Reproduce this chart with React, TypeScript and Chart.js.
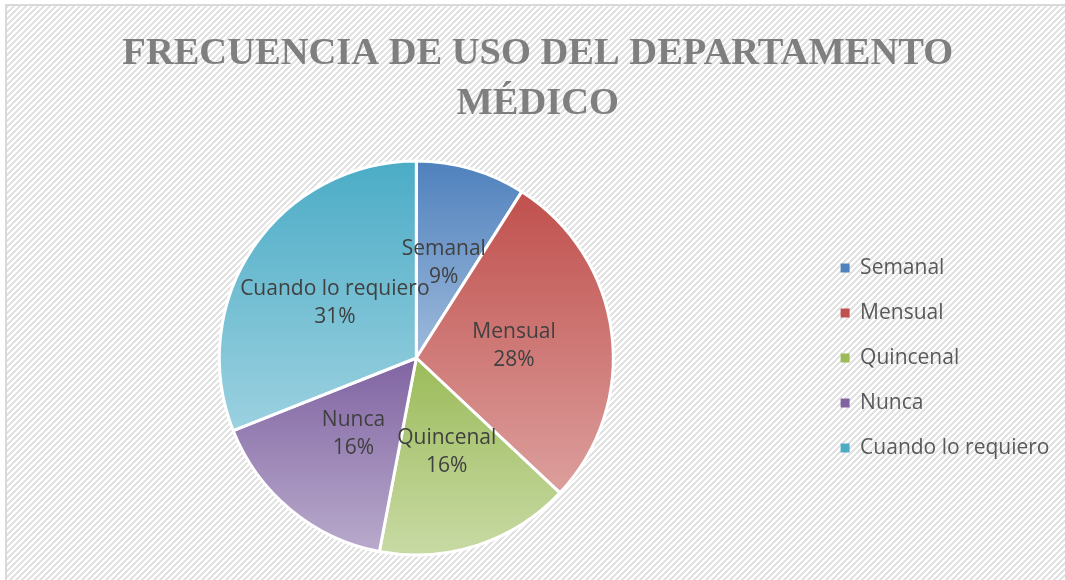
import React, { useEffect, useRef } from "react";
import { Chart, registerables } from "chart.js";

Chart.register(...registerables);

const titleLines = ["FRECUENCIA DE USO DEL DEPARTAMENTO", "MÉDICO"];
const categories = ["Semanal", "Mensual", "Quincenal", "Nunca", "Cuando lo requiero"];
const percentValues = [9, 28, 16, 16, 31];
const baseColors = ["#4F81BD", "#C0504D", "#9BBB59", "#8064A2", "#4BACC6"];

function lighten(hex: string, t: number) {
  const n = parseInt(hex.slice(1), 16);
  const r = (n >> 16) & 255, g = (n >> 8) & 255, b = n & 255;
  const m = (c: number) => Math.round(c + (255 - c) * t);
  return `rgb(${m(r)},${m(g)},${m(b)})`;
}

function makePattern(ctx: CanvasRenderingContext2D) {
  const p = document.createElement("canvas");
  p.width = 6;
  p.height = 6;
  const c = p.getContext("2d")!;
  c.fillStyle = "#ffffff";
  c.fillRect(0, 0, 6, 6);
  c.fillStyle = "#e2e2e2";
  for (let y = 0; y < 6; y++) {
    for (let k = 0; k < 3; k++) {
      const x = (6 - y + k + 6) % 6;
      c.fillRect(x, y, 1, 1);
    }
  }
  return ctx.createPattern(p, "repeat");
}

const backgroundPlugin = {
  id: "bgPattern",
  beforeDraw(chart: any) {
    const ctx = chart.ctx as CanvasRenderingContext2D;
    ctx.save();
    ctx.fillStyle = "#ffffff";
    ctx.fillRect(0, 0, chart.width, chart.height);
    const pat = makePattern(ctx);
    if (pat) {
      ctx.fillStyle = pat;
      ctx.fillRect(6, 5, chart.width, chart.height);
    }
    ctx.strokeStyle = "#d9d9d9";
    ctx.lineWidth = 2;
    ctx.strokeRect(6, 5, chart.width + 10, chart.height + 10);
    ctx.restore();
  },
};

const sliceLabelPlugin = {
  id: "sliceLabels",
  afterDatasetsDraw(chart: any) {
    const ctx = chart.ctx as CanvasRenderingContext2D;
    const meta = chart.getDatasetMeta(0);
    ctx.save();
    ctx.fillStyle = "#404040";
    ctx.font = "21px 'Open Sans'";
    ctx.textAlign = "center";
    ctx.textBaseline = "middle";
    meta.data.forEach((arc: any, i: number) => {
      const p = arc.tooltipPosition();
      ctx.fillText(categories[i], p.x, p.y - 14);
      ctx.fillText(percentValues[i] + "%", p.x, p.y + 14);
    });
    ctx.restore();
  },
};

const PIE_RADIUS = 197;

function sliceGradient(context: any) {
  const i = context.dataIndex;
  const base = baseColors[i];
  const chart = context.chart;
  const ca = chart.chartArea;
  if (!ca) return base;
  const cx = (ca.left + ca.right) / 2;
  const cy = (ca.top + ca.bottom) / 2;
  const r = PIE_RADIUS;
  const total = percentValues.reduce((a, b) => a + b, 0);
  let before = 0;
  for (let k = 0; k < i; k++) before += percentValues[k];
  const a0 = -Math.PI / 2 + (before / total) * Math.PI * 2;
  const a1 = a0 + (percentValues[i] / total) * Math.PI * 2;
  const ys = [cy, cy + r * Math.sin(a0), cy + r * Math.sin(a1)];
  const contains = (a: number) => {
    let x = a;
    while (x < a0) x += Math.PI * 2;
    return x <= a1;
  };
  if (contains(Math.PI / 2)) ys.push(cy + r);
  if (contains(-Math.PI / 2)) ys.push(cy - r);
  const top = Math.min(...ys);
  const bottom = Math.max(...ys);
  const g = chart.ctx.createLinearGradient(cx, top, cx, bottom);
  g.addColorStop(0, base);
  g.addColorStop(1, lighten(base, 0.45));
  return g;
}

export default function App() {
  const ref = useRef<HTMLCanvasElement>(null);
  useEffect(() => {
    if (!ref.current) return;
    const chart = new Chart(ref.current, {
      type: "pie",
      data: {
        labels: categories,
        datasets: [
          {
            data: percentValues,
            backgroundColor: sliceGradient as any,
            borderColor: "#ffffff",
            borderWidth: 3,
          },
        ],
      },
      options: {
        animation: false,
        responsive: false,
        radius: PIE_RADIUS,
        layout: { padding: { left: 16, right: 5.5, top: 5, bottom: 24 } },
        plugins: {
          tooltip: { enabled: false },
          title: {
            display: true,
            text: titleLines,
            color: "#7f7f7f",
            font: { family: "'Liberation Serif'", size: 38.5, weight: "bold", lineHeight: 50 / 38.5 },
            padding: { top: 24, bottom: 31 },
          },
          legend: {
            position: "right",
            fullSize: false,
            labels: {
              boxWidth: 9,
              boxHeight: 9,
              padding: 24,
              color: "#595959",
              font: { family: "'Open Sans'", size: 21 },
              generateLabels: () =>
                categories.map((text, i) => ({
                  text,
                  fillStyle: baseColors[i],
                  strokeStyle: baseColors[i],
                  lineWidth: 0,
                  hidden: false,
                  index: i,
                  fontColor: "#595959",
                })),
            },
          },
        },
      } as any,
      plugins: [backgroundPlugin, sliceLabelPlugin],
    });
    return () => chart.destroy();
  }, []);
  return (
    <div style={{ position: "fixed", left: 0, top: 0, width: 1065, height: 580 }}>
      <canvas ref={ref} width={1065} height={580} style={{ width: 1065, height: 580 }} />
    </div>
  );
}
